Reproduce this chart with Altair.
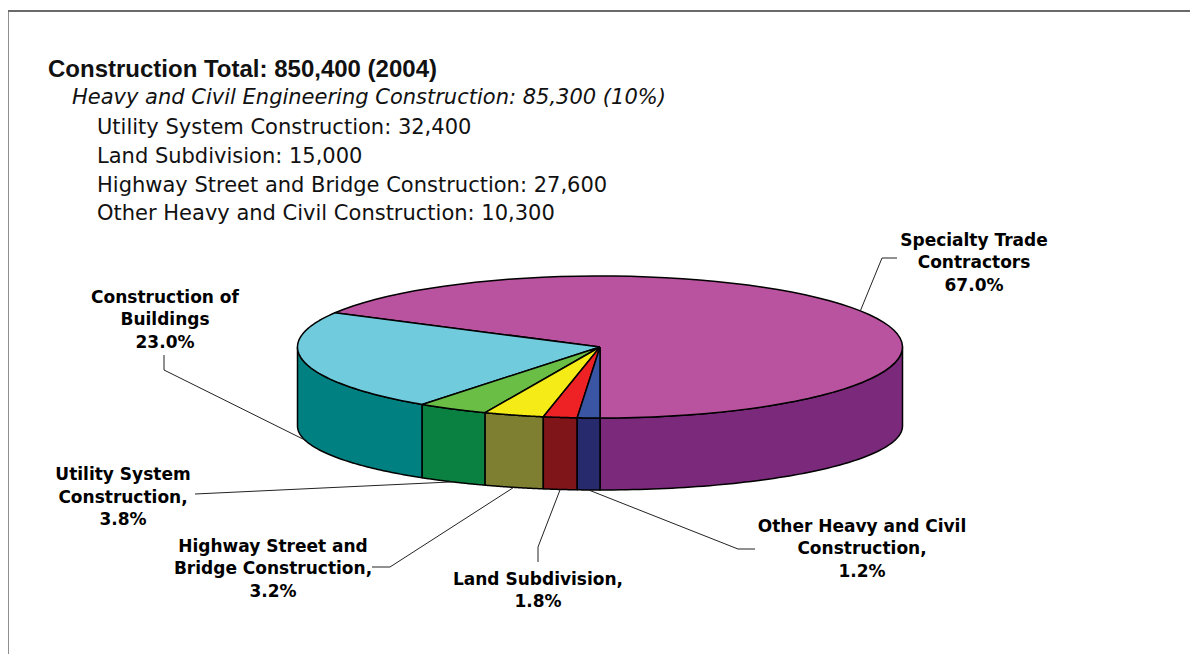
import altair as alt
import pandas as pd

# ---------------- data ----------------
categories = ["Specialty Trade Contractors", "Construction of Buildings",
              "Utility System Construction", "Highway Street and Bridge Construction",
              "Land Subdivision", "Other Heavy and Civil Construction"]
shares = [67.0, 23.0, 3.8, 3.2, 1.8, 1.2]
label_names = ["Specialty Trade\nContractors", "Construction of\nBuildings",
               "Utility System\nConstruction,", "Highway Street and\nBridge Construction,",
               "Land Subdivision,", "Other Heavy and Civil\nConstruction,"]

construction_total = 850400
year = 2004
heavy_civil_total = 85300
heavy_civil_pct = 10
heavy_items = ["Utility System Construction", "Land Subdivision",
               "Highway Street and Bridge Construction", "Other Heavy and Civil Construction"]
heavy_counts = [32400, 15000, 27600, 10300]

# ---------------- styles ----------------
top_colors = ["#B9539F", "#70CCDD", "#6ABD45", "#F4EB17", "#EE2125", "#3A55A4"]
side_colors = ["#7B2A7B", "#008080", "#0A8141", "#7F7F32", "#7F1518", "#272B6E"]

# ---------------- layout (page pixel coordinates) ----------------
CX, CY = 600, 347          # centre of the top face
RX, RY = 302.5, 71         # radii of the top ellipse
DZ, RY2 = 79, 64           # bottom ellipse offset and vertical radius
START = 180                # first slice starts at 6 o'clock (degrees)
N = 72                     # arc resolution
label_x = [974, 165, 123, 273, 538, 862]
label_y = [245.5, 302.5, 480, 551.5, 584.5, 531.5]
lead_sx = [897, 164, 195, 372, 538, 755]
lead_sy = [258, 355, 494, 567, 562, 549]
lead_ex = [882, 164, 195, 390, 538, 738]
lead_ey = [258, 370, 494, 567, 547, 549]

df = pd.DataFrame({
    "cat": categories, "share": shares, "name": label_names, "ord": list(range(len(categories))),
    "lx": label_x, "ly": label_y, "sx": lead_sx, "sy": lead_sy, "ex": lead_ex, "ey": lead_ey,
})

W, H = 1182, 646
xs = alt.Scale(domain=[8, 8 + W], nice=False, zero=False)
ys = alt.Scale(domain=[8, 8 + H], nice=False, zero=False, reverse=True)
X = lambda f: alt.X(f, type="quantitative", scale=xs, axis=None)
Y = lambda f: alt.Y(f, type="quantitative", scale=ys, axis=None)

base = (
    alt.Chart(df)
    .transform_joinaggregate(total="sum(share)")
    .transform_window(cum="sum(share)", sort=[alt.SortField("ord")], frame=[None, 0])
    .transform_calculate(
        t0=f"{START} + 360*(datum.cum - datum.share)/datum.total",
        t1=f"{START} + 360*datum.cum/datum.total",
    )
)

# side walls (front half only)
walls = (
    base.transform_calculate(
        fa0="max(datum.t0, 90)",
        fb0="min(datum.t1, 270)",
    )
    .transform_calculate(
        fa="datum.fb0 > datum.fa0 ? datum.fa0 : max(datum.t0, 450)",
        fb="datum.fb0 > datum.fa0 ? datum.fb0 : min(datum.t1, 630)",
    )
    .transform_filter("datum.fb > datum.fa")
    .transform_calculate(k=f"sequence(0, {2 * N + 3})")
    .transform_flatten(["k"])
    .transform_calculate(
        idx=f"datum.k <= {N} ? datum.k : (datum.k <= {2 * N + 1} ? {2 * N + 1} - datum.k : 0)",
        bot=f"datum.k > {N} && datum.k <= {2 * N + 1}",
    )
    .transform_calculate(
        th=f"(datum.fa + (datum.fb - datum.fa)*datum.idx/{N})*PI/180",
    )
    .transform_calculate(
        px=f"{CX} - {RX}*sin(datum.th)",
        py=f"datum.bot ? {CY + DZ} - {RY2}*cos(datum.th) : {CY} - {RY}*cos(datum.th)",
    )
    .mark_line(stroke="black", strokeWidth=1.5, strokeJoin="round")
    .encode(
        x=X("px"), y=Y("py"),
        fill=alt.Fill("cat:N", scale=alt.Scale(domain=categories, range=side_colors), legend=None),
        detail="cat:N",
        order=alt.Order("k:Q"),
    )
)

# top face slices
tops = (
    base.transform_calculate(k=f"sequence(0, {N + 3})")
    .transform_flatten(["k"])
    .transform_calculate(
        ctr=f"datum.k == 0 || datum.k == {N + 2}",
        th=f"(datum.t0 + (datum.t1 - datum.t0)*clamp(datum.k - 1, 0, {N})/{N})*PI/180",
    )
    .transform_calculate(
        px=f"datum.ctr ? {CX} : {CX} - {RX}*sin(datum.th)",
        py=f"datum.ctr ? {CY} : {CY} - {RY}*cos(datum.th)",
    )
    .mark_line(stroke="black", strokeWidth=1.5, strokeJoin="round")
    .encode(
        x=X("px"), y=Y("py"),
        fill=alt.Fill("cat:N", scale=alt.Scale(domain=categories, range=top_colors), legend=None),
        detail="cat:N",
        order=alt.Order("k:Q"),
    )
)

# leader lines: label -> elbow -> slice mid-angle on the pie rim
leaders = (
    base.transform_calculate(tm="(datum.t0 + datum.t1)/2*PI/180")
    .transform_calculate(
        endx=f"{CX} - {RX}*sin(datum.tm)",
        endy=f"cos(datum.tm) < 0 ? {CY + DZ} - {RY2}*cos(datum.tm) : {CY} - {RY}*cos(datum.tm)",
        k="sequence(0, 3)",
    )
    .transform_flatten(["k"])
    .transform_calculate(
        px="datum.k == 0 ? datum.sx : (datum.k == 1 ? datum.ex : datum.endx)",
        py="datum.k == 0 ? datum.sy : (datum.k == 1 ? datum.ey : datum.endy)",
    )
    .mark_line(color="#222222", strokeWidth=1)
    .encode(x=X("px"), y=Y("py"), detail="cat:N", order=alt.Order("k:Q"))
)

labels = (
    base.transform_calculate(label="datum.name + '\\n' + format(datum.share, '.1f') + '%'")
    .mark_text(font="DejaVu Sans", fontWeight="bold", fontSize=17, lineBreak="\n",
               lineHeight=22.7, align="center", baseline="alphabetic", color="black")
    .encode(x=X("lx"), y=Y("ly"), text="label:N")
)

# ---------------- heading text ----------------
one = pd.DataFrame({"a": [0]})
title_lines = []
title_lines.append(
    alt.Chart(pd.DataFrame({"t": [f"Construction Total: {construction_total:,} ({year})"]}))
    .mark_text(align="left", baseline="alphabetic", font="Liberation Sans", fontWeight="bold",
               fontSize=24, color="#111111")
    .encode(x=alt.value(40), y=alt.value(68.5), text="t:N")
)
title_lines.append(
    alt.Chart(pd.DataFrame({"t": [f"Heavy and Civil Engineering Construction: {heavy_civil_total:,} ({heavy_civil_pct}%)"]}))
    .mark_text(align="left", baseline="alphabetic", font="DejaVu Sans", fontStyle="italic",
               fontSize=21, color="#111111")
    .encode(x=alt.value(64), y=alt.value(96), text="t:N")
)
item_base_y = [125.6, 154.6, 183.6, 211.6]
for name, cnt, yy in zip(heavy_items, heavy_counts, item_base_y):
    title_lines.append(
        alt.Chart(pd.DataFrame({"t": [f"{name}: {cnt:,}"]}))
        .mark_text(align="left", baseline="alphabetic", font="DejaVu Sans", fontSize=21, color="#111111")
        .encode(x=alt.value(89), y=alt.value(yy), text="t:N")
    )

frame_v = alt.Chart(one).mark_rule(color="#6a6a6a", strokeWidth=1.5).encode(
    x=alt.value(0), y=alt.value(3), y2=alt.value(H))
frame_h = alt.Chart(one).mark_rule(color="#6a6a6a", strokeWidth=2).encode(
    y=alt.value(3), x=alt.value(0), x2=alt.value(W))

chart = (
    alt.layer(frame_v, frame_h, walls, tops, leaders, labels, *title_lines)
    .resolve_scale(fill="independent")
    .properties(width=W, height=H, padding=0, autosize="none", background="white")
    .configure_view(stroke=None)
)

chart.save("out.html", embed_options={"renderer": "svg", "actions": False})
